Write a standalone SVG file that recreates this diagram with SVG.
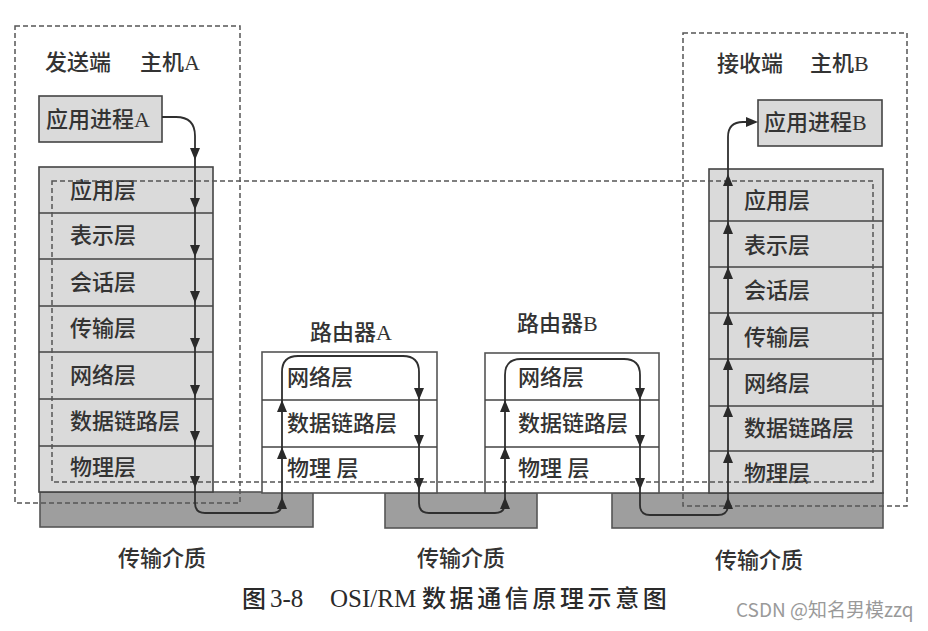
<svg xmlns="http://www.w3.org/2000/svg" width="928" height="631" viewBox="0 0 928 631">
<style>
.t{font-family:"Liberation Serif","Noto Sans CJK SC",serif;font-size:22px;font-weight:500;fill:#333}
.cap{font-family:"Liberation Serif","Noto Sans CJK SC",serif;font-size:24px;font-weight:500;fill:#2a2a2a}
.lat{font-size:25px}
.wm{font-family:"Noto Sans CJK SC","Noto Sans",sans-serif;font-size:19px;fill:#9a9a9a}
.stk{fill:#dadada;stroke:#444;stroke-width:1.6}
.rt{fill:#fff;stroke:#555;stroke-width:1.6}
.med{fill:#9e9e9e;stroke:#555;stroke-width:1.6}
.ln{stroke:#444;stroke-width:1.6;fill:none}
.dash{fill:none;stroke:#555;stroke-width:1.5;stroke-dasharray:5,3}
.con{fill:none;stroke:#2f2f2f;stroke-width:1.8}
.ah{fill:#2a2a2a}
</style>
<defs>
<path id="ad" d="M-5,-12 L5,-12 L0,0 Z"/>
<path id="au" d="M-5,12 L5,12 L0,0 Z"/>
<path id="ar" d="M-12,-5 L-12,5 L0,0 Z"/>
</defs>
<rect width="928" height="631" fill="#fff"/>

<g id="media">
<rect class="med" x="40" y="492" width="273" height="35"/>
<rect class="med" x="385" y="493" width="152" height="35"/>
<rect class="med" x="612" y="493" width="271" height="35"/>
<text class="t" x="118" y="566">传输介质</text>
<text class="t" x="417" y="566">传输介质</text>
<text class="t" x="715" y="568">传输介质</text>
</g>

<g id="stackA">
<rect class="stk" x="39" y="167" width="174" height="325"/>
<path class="ln" d="M39,213H213M39,259H213M39,306H213M39,352H213M39,399H213M39,446H213"/>
<text class="t" x="70" y="198">应用层</text>
<text class="t" x="70" y="243">表示层</text>
<text class="t" x="70" y="290">会话层</text>
<text class="t" x="70" y="336">传输层</text>
<text class="t" x="70" y="383">网络层</text>
<text class="t" x="70" y="429">数据链路层</text>
<text class="t" x="70" y="475">物理层</text>
</g>

<g id="routerA">
<rect class="rt" x="262" y="352" width="175" height="141"/>
<path class="ln" d="M262,400H437M262,447H437"/>
<text class="t" x="310" y="340">路由器A</text>
<text class="t" x="287" y="385">网络层</text>
<text class="t" x="287" y="431">数据链路层</text>
<text class="t" x="287" y="476">物理 层</text>
</g>

<g id="routerB">
<rect class="rt" x="485" y="353" width="174" height="140"/>
<path class="ln" d="M485,400H659M485,447H659"/>
<text class="t" x="517" y="331">路由器B</text>
<text class="t" x="518" y="385">网络层</text>
<text class="t" x="518" y="431">数据链路层</text>
<text class="t" x="518" y="476">物理 层</text>
</g>

<g id="stackB">
<rect class="stk" x="709" y="169" width="174" height="324"/>
<path class="ln" d="M709,221H883M709,267H883M709,313H883M709,359H883M709,406H883M709,451H883"/>
<text class="t" x="744" y="208">应用层</text>
<text class="t" x="744" y="253">表示层</text>
<text class="t" x="744" y="298">会话层</text>
<text class="t" x="744" y="345">传输层</text>
<text class="t" x="744" y="391">网络层</text>
<text class="t" x="744" y="436">数据链路层</text>
<text class="t" x="744" y="481">物理层</text>
</g>

<g id="appA">
<rect class="stk" x="39" y="96" width="123" height="46"/>
<text class="t" x="46" y="127">应用进程A</text>
</g>

<g id="appB">
<rect class="stk" x="758" y="100" width="124" height="46"/>
<text class="t" x="764" y="130">应用进程B</text>
</g>

<g id="hostA">
<rect class="dash" x="15" y="26" width="225" height="477"/>
<text class="t" x="45" y="70">发送端<tspan x="140">主机A</tspan></text>
</g>

<g id="hostB">
<rect class="dash" x="683" y="33" width="224" height="473"/>
<text class="t" x="717" y="71">接收端<tspan x="810">主机B</tspan></text>
</g>

<g id="peer">
<rect class="dash" x="52" y="181" width="821" height="301"/>
</g>

<g id="connectors">
<path class="con" d="M162,117 H176 Q195,117 195,136 V503 Q195,513 205,513 H272 Q282,513 282,503 V372 Q282,356 298,356 H403 Q419,356 419,372 V503 Q419,513 429,513 H495 Q505,513 505,503 V375 Q505,359 521,359 H624 Q640,359 640,375 V505 Q640,515 650,515 H718 Q728,515 728,505 V137 Q728,122 743,122 H750"/>
<g class="ah">
<use href="#ad" x="195" y="160"/>
<use href="#ad" x="195" y="210"/>
<use href="#ad" x="195" y="257"/>
<use href="#ad" x="195" y="303"/>
<use href="#ad" x="195" y="350"/>
<use href="#ad" x="195" y="397"/>
<use href="#ad" x="195" y="443"/>
<use href="#ad" x="195" y="488"/>
<use href="#au" x="282" y="497"/>
<use href="#au" x="282" y="447"/>
<use href="#au" x="282" y="400"/>
<use href="#ad" x="419" y="400"/>
<use href="#ad" x="419" y="447"/>
<use href="#ad" x="419" y="490"/>
<use href="#au" x="505" y="497"/>
<use href="#au" x="505" y="447"/>
<use href="#au" x="505" y="400"/>
<use href="#ad" x="640" y="400"/>
<use href="#ad" x="640" y="447"/>
<use href="#ad" x="640" y="490"/>
<use href="#au" x="728" y="497"/>
<use href="#au" x="728" y="451"/>
<use href="#au" x="728" y="405"/>
<use href="#au" x="728" y="358"/>
<use href="#au" x="728" y="313"/>
<use href="#au" x="728" y="267"/>
<use href="#au" x="728" y="222"/>
<use href="#au" x="728" y="174"/>
<use href="#ar" x="758" y="122"/>
</g>
</g>

<g id="caption">
<text class="cap" y="607"><tspan x="242">图</tspan><tspan class="lat" x="270">3-8</tspan><tspan class="lat" x="330">OSI/RM</tspan><tspan x="422" letter-spacing="3.6">数据通信原理示意图</tspan></text>
<text class="wm" x="736" y="617">CSDN @知名男模zzq</text>
</g>
</svg>
